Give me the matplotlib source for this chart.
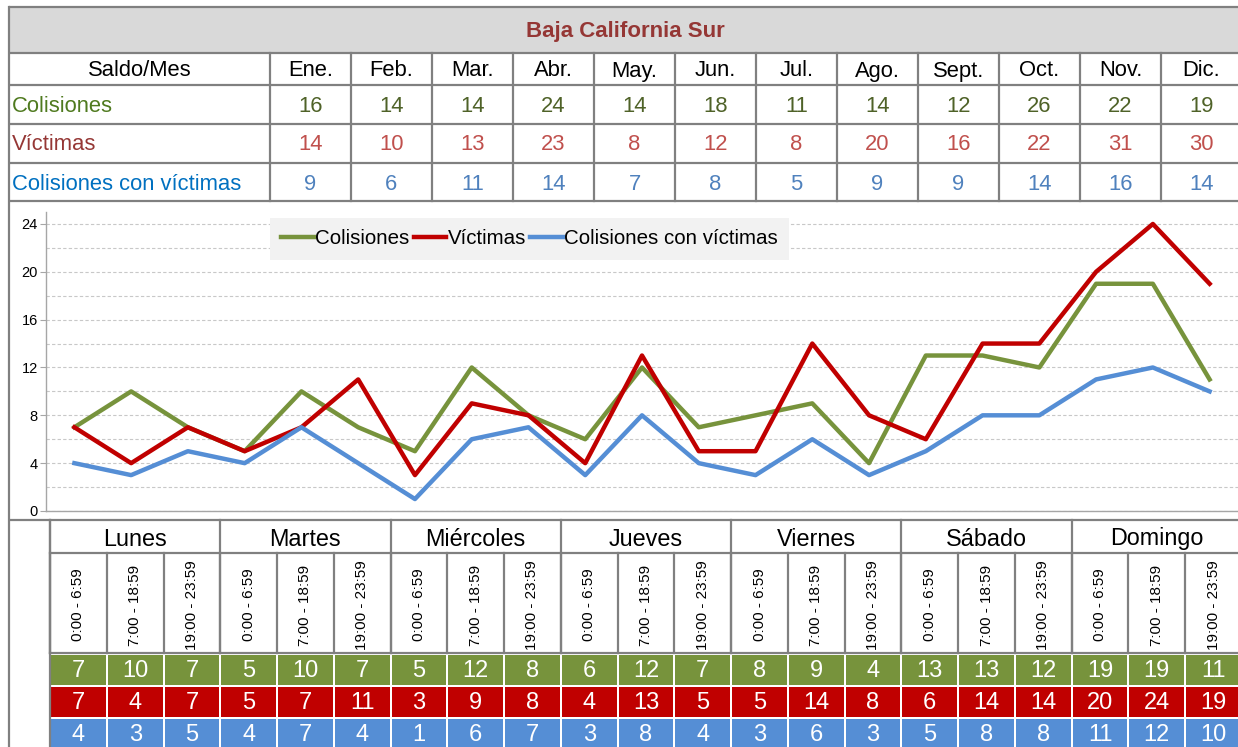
import matplotlib
matplotlib.use("Agg")
import matplotlib.pyplot as plt
from matplotlib.patches import Rectangle

plt.rcParams['font.family'] = ['Liberation Sans Narrow', 'Liberation Sans', 'DejaVu Sans']

title = "Baja California Sur"
months = ["Ene.", "Feb.", "Mar.", "Abr.", "May.", "Jun.", "Jul.", "Ago.", "Sept.", "Oct.", "Nov.", "Dic."]
row_labels = ["Colisiones", "Víctimas", "Colisiones con víctimas"]
col_month = [16, 14, 14, 24, 14, 18, 11, 14, 12, 26, 22, 19]
vic_month = [14, 10, 13, 23, 8, 12, 8, 20, 16, 22, 31, 30]
cv_month = [9, 6, 11, 14, 7, 8, 5, 9, 9, 14, 16, 14]

days = ["Lunes", "Martes", "Miércoles", "Jueves", "Viernes", "Sábado", "Domingo"]
slots = ["0:00 - 6:59", "7:00 - 18:59", "19:00 - 23:59"]
col_slot = [7, 10, 7, 5, 10, 7, 5, 12, 8, 6, 12, 7, 8, 9, 4, 13, 13, 12, 19, 19, 11]
vic_slot = [7, 4, 7, 5, 7, 11, 3, 9, 8, 4, 13, 5, 5, 14, 8, 6, 14, 14, 20, 24, 19]
cv_slot = [4, 3, 5, 4, 7, 4, 1, 6, 7, 3, 8, 4, 3, 6, 3, 5, 8, 8, 11, 12, 10]

GREEN, RED, BLUE = "#77933c", "#c00000", "#558ed5"
GRID = "#808080"
W, H = 1238, 747

fig = plt.figure(figsize=(W / 100, H / 100), dpi=100)
bg = fig.add_axes([0, 0, 1, 1])
bg.set_xlim(0, W)
bg.set_ylim(H, 0)
bg.axis("off")

lw = 1.6
# ---- top table ----
bg.add_patch(Rectangle((9, 7), W - 9, 46, facecolor="#d9d9d9", edgecolor="none", zorder=0))
bg.text(625, 31, title, ha="center", va="center", fontsize=16, fontweight="bold", color="#953735")
for y in [7, 53, 85, 124, 163, 201, 520]:
    bg.plot([9, W], [y, y], color=GRID, lw=lw, solid_capstyle="butt")
bg.plot([9, 9], [7, H], color=GRID, lw=lw)
mx0, mw = 270, 81
for i in range(13):
    x = mx0 + i * mw
    bg.plot([x, x], [53, 201], color=GRID, lw=lw)
FS = 15.8
bg.text(140, 71, "Saldo/Mes", ha="center", va="center", fontsize=FS, color="black")
for i, m in enumerate(months):
    bg.text(mx0 + mw * (i + 0.5), 71, m, ha="center", va="center", fontsize=FS, color="black")
label_colors = ["#4f7a1f", "#953735", "#0070c0"]
num_colors = ["#4f6228", "#c0504d", "#4f81bd"]
row_y = [106, 145, 184]
for r, (lab, vals) in enumerate(zip(row_labels, [col_month, vic_month, cv_month])):
    bg.text(12, row_y[r], lab, ha="left", va="center", fontsize=FS, color=label_colors[r])
    for i, v in enumerate(vals):
        bg.text(mx0 + mw * (i + 0.5), row_y[r], str(v), ha="center", va="center",
                fontsize=FS, color=num_colors[r])

# ---- chart ----
ax_l, ax_r, ax_t, ax_b = 46, W, 212, 511
ax = fig.add_axes([ax_l / W, (H - ax_b) / H, (ax_r - ax_l) / W, (ax_b - ax_t) / H])
ax.patch.set_alpha(0)
x = list(range(len(col_slot)))
ax.plot(x, col_slot, color=GREEN, lw=3.2, label=row_labels[0], zorder=3)
ax.plot(x, vic_slot, color=RED, lw=3.2, label=row_labels[1], zorder=4)
ax.plot(x, cv_slot, color=BLUE, lw=3.2, label=row_labels[2], zorder=5)
ax.set_xlim(-0.5, len(x) - 0.5)
ax.set_ylim(0, 25)
ax.set_yticks(range(0, 25, 4))
ax.set_yticks(range(0, 25, 2), minor=True)
ax.grid(axis="y", which="both", ls=(0, (3, 2)), color="#c8c8c8", lw=0.8)
ax.set_xticks([])
for s in ["top", "right"]:
    ax.spines[s].set_visible(False)
for s in ["left", "bottom"]:
    ax.spines[s].set_color("#a6a6a6")
    ax.spines[s].set_linewidth(1)
ax.tick_params(axis="y", which="major", length=4, color="#a6a6a6", labelsize=10.5, pad=2)
ax.tick_params(axis="y", which="minor", length=0)
leg = ax.legend(ncol=3, loc="upper left", bbox_to_anchor=(270 / W, 1 - 218 / H),
                bbox_transform=fig.transFigure, frameon=True, fancybox=False,
                facecolor="#f2f2f2", edgecolor="none", framealpha=1, fontsize=14.8,
                handlelength=1.6, handletextpad=0.05, columnspacing=0.2, borderpad=0.55,
                borderaxespad=0)
for line in leg.get_lines():
    line.set_linewidth(3.2)

# ---- bottom table ----
tx0 = 50
cw = (ax_r - ax_l) / len(col_slot)
dw = cw * 3
bg.plot([tx0, W], [553, 553], color=GRID, lw=lw)
bg.plot([tx0, W], [653, 653], color=GRID, lw=lw)
for d in range(len(days) + 1):
    xx = tx0 + d * dw
    bg.plot([xx, xx], [520, 653], color=GRID, lw=lw)
for j in range(len(col_slot) + 1):
    xx = tx0 + j * cw
    bg.plot([xx, xx], [553, 653], color=GRID, lw=lw)
bg.plot([tx0, tx0], [520, H], color=GRID, lw=lw)
for d, name in enumerate(days):
    bg.text(tx0 + dw * (d + 0.5), 539, name, ha="center", va="center", fontsize=16.8, color="black")
for j in range(len(col_slot)):
    bg.text(tx0 + cw * (j + 0.5), 605, slots[j % 3], ha="center", va="center",
            rotation=90, fontsize=11, color="black")
rows_y = [655, 687, 719]
for r, (vals, c) in enumerate(zip([col_slot, vic_slot, cv_slot], [GREEN, RED, BLUE])):
    y0 = rows_y[r]
    for j, v in enumerate(vals):
        bg.add_patch(Rectangle((tx0 + j * cw + 1, y0), cw - 2, 30, facecolor=c, edgecolor="none"))
        bg.text(tx0 + cw * (j + 0.5), y0 + 16, str(v), ha="center", va="center",
                fontsize=17, color="white")

fig.savefig("out.png", dpi=100)
